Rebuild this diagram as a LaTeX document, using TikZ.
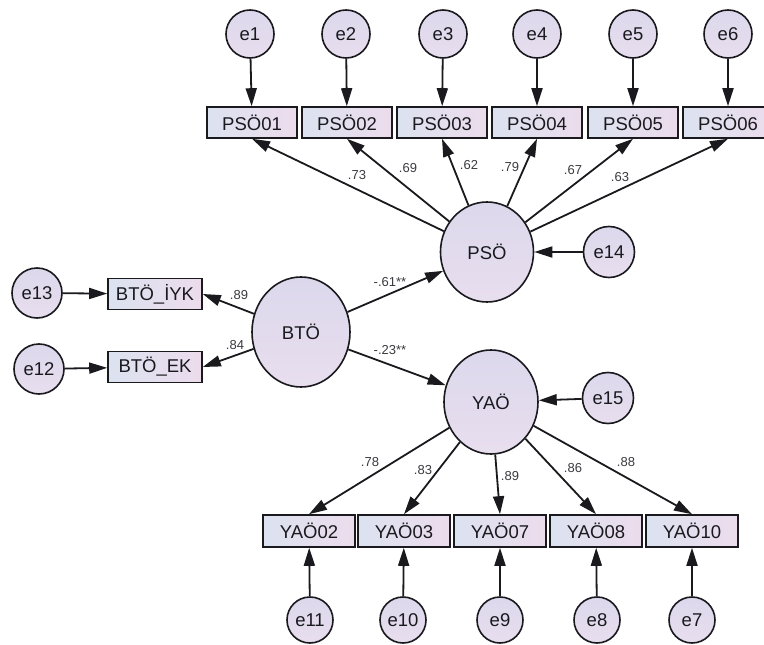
\documentclass[tikz,border=0pt]{standalone}
\usepackage{fontspec}
\setmainfont{Liberation Sans}
\usetikzlibrary{arrows.meta,shapes.geometric}
\definecolor{cfillA}{RGB}{220,216,236}
\definecolor{cfillB}{RGB}{232,222,238}
\definecolor{bfillA}{RGB}{220,226,240}
\definecolor{bfillB}{RGB}{236,220,236}
\definecolor{ink}{RGB}{25,25,30}
\begin{document}
\begin{tikzpicture}[x=1pt,y=-1pt,
  errc/.style={circle,draw=ink,line width=1.6pt,top color=cfillA,bottom color=cfillB,minimum size=48pt,inner sep=0pt,font=\fontsize{18.5}{20}\selectfont,text=ink},
  lat/.style={ellipse,draw=ink,line width=1.6pt,top color=cfillA,bottom color=cfillB,inner sep=0pt,font=\fontsize{18.5}{20}\selectfont,text=ink},
  obs/.style={rectangle,draw=ink,line width=1.6pt,left color=bfillA,right color=bfillB,minimum width=90pt,minimum height=31pt,inner sep=0pt,font=\fontsize{18.5}{20}\selectfont,text=ink},
  arr/.style={draw=ink,line width=1.8pt,-{Triangle[length=18pt,width=11pt]}},
  lbl/.style={font=\fontsize{13}{14}\selectfont,text=ink!85,inner sep=0pt}
]
\clip (0,0) rectangle (764,645);
\fill[white] (0,0) rectangle (764,645);
% top errors
\node[errc] (e1) at (250,34) {e1};
\node[errc] (e2) at (346,34) {e2};
\node[errc] (e3) at (443,34) {e3};
\node[errc] (e4) at (537,34) {e4};
\node[errc] (e5) at (633,34) {e5};
\node[errc] (e6) at (728,34) {e6};
% PSO indicators
\node[obs] (P1) at (252,122.5) {PSÖ01};
\node[obs] (P2) at (347,122.5) {PSÖ02};
\node[obs] (P3) at (442,122.5) {PSÖ03};
\node[obs] (P4) at (537,122.5) {PSÖ04};
\node[obs] (P5) at (633,122.5) {PSÖ05};
\node[obs] (P6) at (728,122.5) {PSÖ06};
% latents
\node[lat,minimum width=93pt,minimum height=100pt] (PSO) at (487,252) {PSÖ};
\node[lat,minimum width=98pt,minimum height=110pt] (BTO) at (301,332) {BTÖ};
\node[lat,minimum width=94pt,minimum height=104pt] (YAO) at (491,402) {YAÖ};
\node[errc,minimum size=51pt] (e14) at (609,252) {e14};
\node[errc,minimum size=51pt] (e15) at (608,398) {e15};
% BTO indicators
\node[obs,minimum width=94pt] (IYK) at (155,294) {BTÖ\_İYK};
\node[obs,minimum width=94pt] (EK) at (155,367) {BTÖ\_EK};
\node[errc,minimum size=50pt] (e13) at (37,293) {e13};
\node[errc,minimum size=50pt] (e12) at (39,369) {e12};
% YAO indicators
\node[obs,minimum width=92pt,minimum height=32pt] (Y02) at (309,531) {YAÖ02};
\node[obs,minimum width=92pt,minimum height=32pt] (Y03) at (404,531) {YAÖ03};
\node[obs,minimum width=92pt,minimum height=32pt] (Y07) at (500,531) {YAÖ07};
\node[obs,minimum width=92pt,minimum height=32pt] (Y08) at (596,531) {YAÖ08};
\node[obs,minimum width=92pt,minimum height=32pt] (Y10) at (692,531) {YAÖ10};
\node[errc,minimum size=46pt] (e11) at (310,620) {e11};
\node[errc,minimum size=46pt] (e10) at (403,620) {e10};
\node[errc,minimum size=46pt] (e9) at (500,620) {e9};
\node[errc,minimum size=46pt] (e8) at (597,620) {e8};
\node[errc,minimum size=46pt] (e7) at (692,620) {e7};
% arrows: errors to indicators
\foreach \i in {1,...,6} {\draw[arr] (e\i) -- (P\i);}
\draw[arr] (e13) -- (IYK);
\draw[arr] (e12) -- (EK);
\draw[arr] (e11) -- (Y02);
\draw[arr] (e10) -- (Y03);
\draw[arr] (e9) -- (Y07);
\draw[arr] (e8) -- (Y08);
\draw[arr] (e7) -- (Y10);
\draw[arr] (e14) -- (PSO);
\draw[arr] (e15) -- (YAO);
% loadings
\foreach \i in {1,...,6} {\draw[arr] (PSO) -- (P\i.south);}
\draw[arr] (BTO) -- (IYK.east);
\draw[arr] (BTO) -- (EK.east);
\draw[arr] (BTO) -- (PSO);
\draw[arr] (BTO) -- (YAO);
\draw[arr] (YAO) -- (Y02.north);
\draw[arr] (YAO) -- (Y03.north);
\draw[arr] (YAO) -- (Y07.north);
\draw[arr] (YAO) -- (Y08.north);
\draw[arr] (YAO) -- (Y10.north);
% labels
\node[lbl] (l1) at (357,175) {.73};
\node[lbl] (l2) at (408,168) {.69};
\node[lbl] (l3) at (469,165) {.62};
\node[lbl] (l4) at (510,167) {.79};
\node[lbl] (l5) at (573,170) {.67};
\node[lbl] (l6) at (620,177) {.63};
\node[lbl] (l7) at (239,295) {.89};
\node[lbl] (l8) at (235,345) {.84};
\node[lbl] (l9) at (390,282) {-.61**};
\node[lbl] (l10) at (390,350) {-.23**};
\node[lbl] (l11) at (370,462) {.78};
\node[lbl] (l12) at (423,470) {.83};
\node[lbl] (l13) at (510,476) {.89};
\node[lbl] (l14) at (573,468) {.86};
\node[lbl] (l15) at (626,462) {.88};
\end{tikzpicture}
\end{document}
